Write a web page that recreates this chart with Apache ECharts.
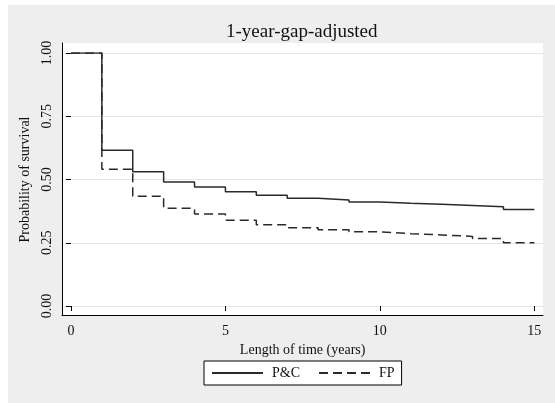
<!DOCTYPE html>
<html><head><meta charset="utf-8">
<script src="https://cdn.jsdelivr.net/npm/echarts@6/dist/echarts.min.js"></script>
<style>
html,body{margin:0;padding:0;background:#ffffff;}
#c{position:absolute;left:8px;top:5px;width:547px;height:398px;}
</style></head>
<body><div id="c"></div>
<script>
const years = [0,1,2,3,4,5,6,7,8,9,10,11,12,13,14,15];
const pcValues = [1.000,0.616,0.531,0.490,0.470,0.452,0.438,0.426,0.419,0.411,0.406,0.402,0.397,0.392,0.381,0.381];
const fpValues = [1.000,0.541,0.434,0.386,0.364,0.339,0.321,0.309,0.301,0.293,0.286,0.281,0.275,0.267,0.250,0.250];
const yTicks = [0,0.25,0.5,0.75,1];
const xTicks = [0,5,10,15];
const seriesNames = ['P&C','FP'];
const titleText = '1-year-gap-adjusted';
const xTitle = 'Length of time (years)';
const yTitle = 'Probability of survival';

const font = 'Liberation Serif, Times New Roman, serif';
const chart = echarts.init(document.getElementById('c'));
const pair = (vals) => years.map((x,i)=>[x, vals[i]]);
chart.setOption({
  backgroundColor:'#eeeeee',
  animation:false,
  title:{text:titleText,left:213,top:13,textStyle:{fontFamily:font,fontSize:19,fontWeight:'normal',color:'#111'}},
  legend:{
    data:seriesNames, left:196, top:356, orient:'horizontal',
    backgroundColor:'#ffffff', borderColor:'#000', borderWidth:1, borderRadius:0,
    padding:[5,7,5,7], itemWidth:51, itemHeight:12, itemGap:18,
    itemStyle:{opacity:0},
    textStyle:{fontFamily:font,fontSize:14,color:'#111',padding:[0,0,0,4]}
  },
  grid:[
    {left:54,top:38,width:481,height:272,show:true,backgroundColor:'#ffffff',borderWidth:0},
    {left:54,top:48,width:481,height:253},
    {left:63,top:48,width:463.3,height:253}
  ],
  xAxis:[
    {gridIndex:0,type:'value',min:0,max:1,axisLine:{show:true,lineStyle:{color:'#000',width:1}},axisTick:{show:false},axisLabel:{show:false},splitLine:{show:false}},
    {gridIndex:1,type:'value',min:-0.29,max:15.28,show:false},
    {gridIndex:2,type:'value',min:0,max:15,interval:5,offset:9,
     axisLine:{show:false},axisTick:{show:true,length:5,lineStyle:{color:'#000'}},
     axisLabel:{fontFamily:font,fontSize:14,color:'#111',margin:9,formatter:(v)=>xTicks.includes(v)?String(v):''},
     splitLine:{show:false},
     name:xTitle,nameLocation:'middle',nameGap:26,nameTextStyle:{fontFamily:font,fontSize:14,color:'#111'}}
  ],
  yAxis:[
    {gridIndex:0,type:'value',min:0,max:1,axisLine:{show:true,lineStyle:{color:'#000',width:1}},axisTick:{show:false},axisLabel:{show:false},splitLine:{show:false}},
    {gridIndex:1,type:'value',min:0,max:1,interval:0.25,
     axisLine:{show:false},axisTick:{show:true,length:5,lineStyle:{color:'#000'}},
     axisLabel:{fontFamily:font,fontSize:14,color:'#111',rotate:90,margin:8,formatter:(v)=>yTicks.includes(v)?v.toFixed(2):''},
     splitLine:{show:true,lineStyle:{color:'#e6e6e6',width:1}},
     name:yTitle,nameLocation:'middle',nameGap:24,nameRotate:90,nameTextStyle:{fontFamily:font,fontSize:14,color:'#111'}},
    {gridIndex:2,type:'value',min:0,max:1,show:false}
  ],
  series:[
    {name:seriesNames[0],type:'line',xAxisIndex:1,yAxisIndex:1,step:'end',symbol:'none',data:pair(pcValues),
     lineStyle:{color:'#2a2a2a',width:1.5,type:'solid'},itemStyle:{color:'#2a2a2a'}},
    {name:seriesNames[1],type:'line',xAxisIndex:1,yAxisIndex:1,step:'end',symbol:'none',data:pair(fpValues),
     lineStyle:{color:'#2a2a2a',width:1.5,type:[9,5]},itemStyle:{color:'#2a2a2a'}}
  ]
});
</script></body></html>
